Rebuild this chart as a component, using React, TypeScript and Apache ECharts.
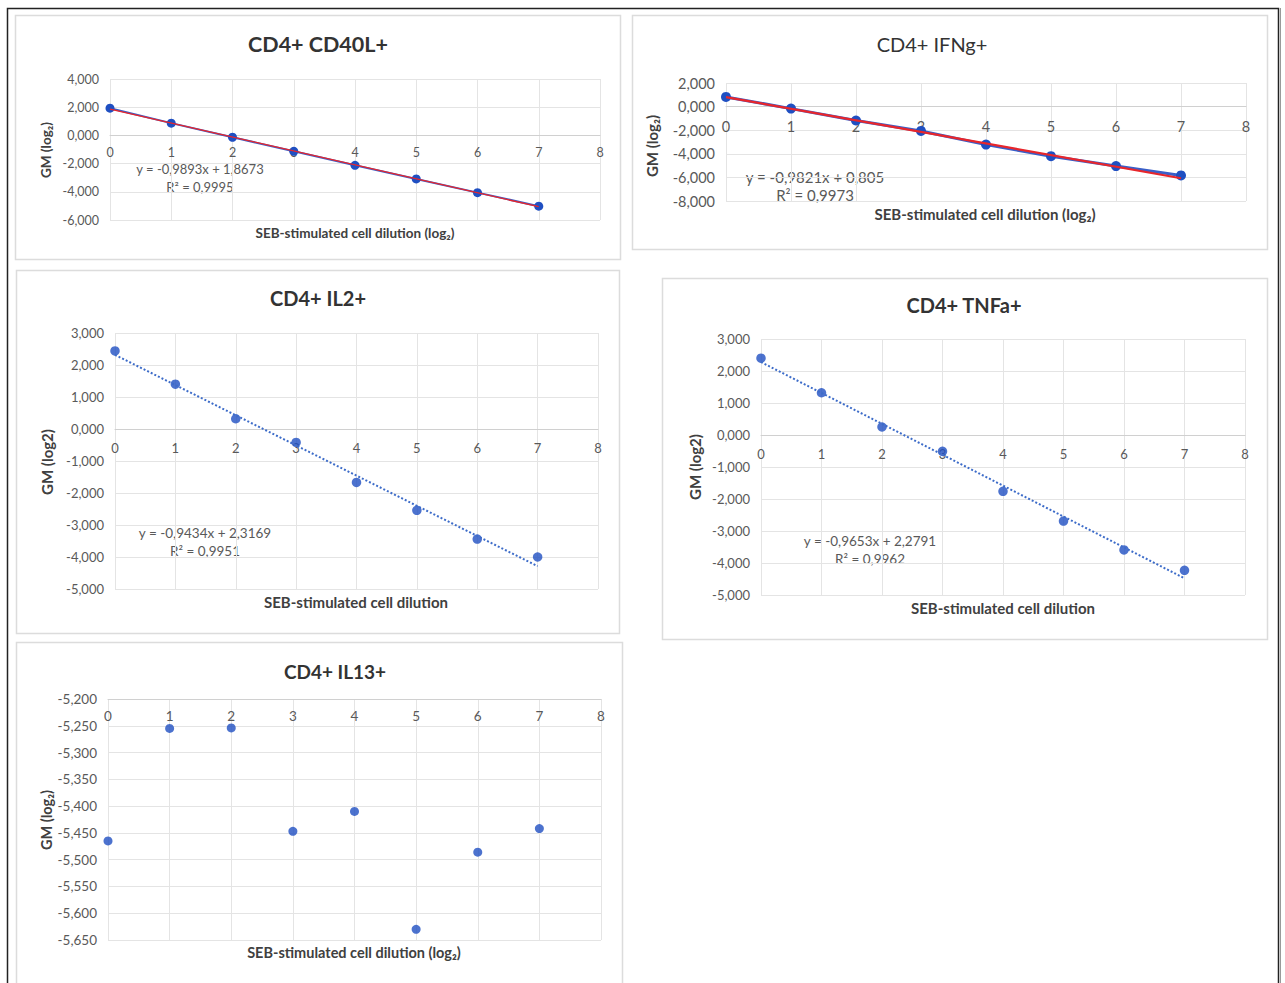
import React, { useEffect, useRef } from "react";
import * as echarts from "echarts";

const FONT = 'Lato, "Open Sans", "DejaVu Sans", sans-serif';

// ---- data ----
const dilutionSteps = [0, 1, 2, 3, 4, 5, 6, 7];
const cd40lValues = [1.93, 0.87, -0.13, -1.13, -2.12, -3.09, -4.06, -5.02];
const ifngValues = [0.82, -0.17, -1.18, -2.06, -3.22, -4.2, -5.04, -5.83];
const il2Values = [2.44, 1.4, 0.32, -0.42, -1.67, -2.54, -3.44, -4.0];
const tnfaValues = [2.4, 1.32, 0.25, -0.51, -1.76, -2.69, -3.59, -4.23];
const il13Values = [-5.465, -5.255, -5.254, -5.447, -5.41, -5.63, -5.486, -5.442];

const panelTitles = ["CD4+ CD40L+", "CD4+ IFNg+", "CD4+ IL2+", "CD4+ TNFa+", "CD4+ IL13+"];
const yAxisTitles = ["GM (log\u2082)", "GM (log\u2082)", "GM (log2)", "GM (log2)", "GM (log\u2082)"];
const xAxisTitles = [
  "SEB-stimulated cell dilution (log\u2082)",
  "SEB-stimulated cell dilution (log\u2082)",
  "SEB-stimulated cell dilution",
  "SEB-stimulated cell dilution",
  "SEB-stimulated cell dilution (log\u2082)",
];
const yMins = [-6, -8, -5, -5, -5.65];
const yMaxs = [4, 2, 3, 3, -5.2];
const yIntervals = [2, 2, 1, 1, 0.05];
const trendSlopes = [-0.9893, -0.9821, -0.9434, -0.9653];
const trendIntercepts = [1.8673, 0.805, 2.3169, 2.2791];
const equationTexts = [
  "y = -0,9893x + 1,8673",
  "y = -0,9821x + 0,805",
  "y = -0,9434x + 2,3169",
  "y = -0,9653x + 2,2791",
];
const r2Texts = ["R\u00b2 = 0,9995", "R\u00b2 = 0,9973", "R\u00b2 = 0,9951", "R\u00b2 = 0,9962"];

// ---- layout ----
const grids = [
  { left: 110, top: 79, width: 490, height: 141 },
  { left: 726, top: 83, width: 520, height: 118 },
  { left: 115, top: 333, width: 483, height: 256 },
  { left: 761, top: 339, width: 484, height: 256 },
  { left: 108, top: 699, width: 493, height: 241 },
];
const panelBoxes = [
  { x: 15, y: 15, w: 605, h: 244 },
  { x: 632, y: 15, w: 635, h: 234 },
  { x: 16, y: 270, w: 603, h: 363 },
  { x: 662, y: 278, w: 605, h: 361 },
  { x: 16, y: 642, w: 606, h: 345 },
];
const titlePos = [[318, 44], [932, 44], [318, 298], [964, 305], [335, 671]];
const titleSizes = [21.5, 20, 20, 20, 19];
const titleWeights = ["bold", "normal", "bold", "bold", "bold"];
const tickSizes = [12.5, 14.5, 13, 13, 13.5];
const tickXMargins = [11, 12, 12, 12, 10];
const axisTitleSizes = [13.5, 15, 15, 15, 14.5];
const yTitlePos = [[46, 150], [652, 146], [47, 462], [695, 467], [46, 820]];
const xTitlePos = [[355, 233], [985, 214], [356, 602], [1003, 608], [354, 952]];
const eqPos = [[200, 169], [815, 177], [205, 533], [870, 541]];
const eqSizes = [13, 15, 13.5, 13.5];

const BLUE = "#1f4fc2";
const RED = "#e8262b";
const GRID_LINE = "#e4e4e4";
const LABEL = "#595959";

const fmt = (v: number) => v.toFixed(3).replace(".", ",");

function trendData(i: number) {
  const x0 = dilutionSteps[0];
  const x1 = dilutionSteps[dilutionSteps.length - 1];
  return [
    [x0, trendSlopes[i] * x0 + trendIntercepts[i]],
    [x1, trendSlopes[i] * x1 + trendIntercepts[i]],
  ];
}

function pairs(vals: number[]) {
  return dilutionSteps.map((x, i) => [x, vals[i]]);
}

export default function App() {
  const ref = useRef<HTMLDivElement>(null);
  useEffect(() => {
    if (!ref.current) return;
    const chart = echarts.init(ref.current, undefined, { renderer: "svg" });

    const xAxes = grids.map((g, i) => {
      const crossesZero = yMins[i] <= 0 && yMaxs[i] >= 0;
      const zeroOffset = crossesZero ? -(g.height * (0 - yMins[i])) / (yMaxs[i] - yMins[i]) : 0;
      return {
        gridIndex: i,
        type: "value",
        min: 0,
        max: 8,
        interval: 1,
        position: crossesZero ? "bottom" : "top",
        offset: zeroOffset,
        axisLine: { show: true, onZero: false, lineStyle: { color: "#d0d0d0", width: 1 } },
        axisTick: { show: false },
        axisLabel: {
          color: LABEL,
          fontSize: tickSizes[i],
          fontFamily: FONT,
          margin: tickXMargins[i],
          inside: !crossesZero,
        },
        splitLine: { show: true, lineStyle: { color: GRID_LINE, width: 1 } },
      };
    });

    const yAxes = grids.map((_, i) => ({
      gridIndex: i,
      type: "value",
      min: yMins[i],
      max: yMaxs[i],
      interval: yIntervals[i],
      axisLine: { show: false },
      axisTick: { show: false },
      axisLabel: {
        color: LABEL,
        fontSize: tickSizes[i],
        fontFamily: FONT,
        margin: 11,
        formatter: (v: number) => fmt(v),
      },
      splitLine: { show: true, lineStyle: { color: GRID_LINE, width: 1 } },
    }));

    const series: any[] = [];
    // Panel 1
    series.push({
      type: "line",
      xAxisIndex: 0,
      yAxisIndex: 0,
      data: pairs(cd40lValues),
      symbol: "circle",
      symbolSize: 9,
      itemStyle: { color: BLUE },
      lineStyle: { color: "#3a5fc8", width: 2 },
      z: 2,
    });
    series.push({
      type: "line",
      xAxisIndex: 0,
      yAxisIndex: 0,
      data: trendData(0),
      symbol: "none",
      lineStyle: { color: RED, width: 1.3 },
      z: 3,
    });
    // Panel 2
    series.push({
      type: "line",
      xAxisIndex: 1,
      yAxisIndex: 1,
      data: pairs(ifngValues),
      symbol: "circle",
      symbolSize: 10,
      itemStyle: { color: BLUE },
      lineStyle: { color: "#3a5fc8", width: 3 },
      z: 2,
    });
    series.push({
      type: "line",
      xAxisIndex: 1,
      yAxisIndex: 1,
      data: trendData(1),
      symbol: "none",
      lineStyle: { color: RED, width: 2.2 },
      z: 3,
    });
    // Panel 3
    series.push({
      type: "scatter",
      xAxisIndex: 2,
      yAxisIndex: 2,
      data: pairs(il2Values),
      symbol: "circle",
      symbolSize: 9.5,
      itemStyle: { color: BLUE },
      z: 2,
    });
    series.push({
      type: "line",
      xAxisIndex: 2,
      yAxisIndex: 2,
      data: trendData(2),
      symbol: "none",
      lineStyle: { color: "#3d6cc9", width: 2, type: [2, 2] },
      z: 3,
    });
    // Panel 4
    series.push({
      type: "scatter",
      xAxisIndex: 3,
      yAxisIndex: 3,
      data: pairs(tnfaValues),
      symbol: "circle",
      symbolSize: 9.5,
      itemStyle: { color: BLUE },
      z: 2,
    });
    series.push({
      type: "line",
      xAxisIndex: 3,
      yAxisIndex: 3,
      data: trendData(3),
      symbol: "none",
      lineStyle: { color: "#3d6cc9", width: 2, type: [2, 2] },
      z: 3,
    });
    // Panel 5
    series.push({
      type: "scatter",
      xAxisIndex: 4,
      yAxisIndex: 4,
      data: pairs(il13Values),
      symbol: "circle",
      symbolSize: 9,
      itemStyle: { color: BLUE },
      z: 2,
    });

    const graphics: any[] = [];
    // outer frame
    graphics.push({
      type: "polyline",
      shape: { points: [[7.5, 983], [7.5, 8.5], [1278.5, 8.5], [1278.5, 983]] },
      style: { stroke: "#222", lineWidth: 1.5, fill: "none" },
      z: 0,
    });
    graphics.push({
      type: "line",
      shape: { x1: 1280.5, y1: 8, x2: 1280.5, y2: 983 },
      style: { stroke: "#9a9a9a", lineWidth: 1 },
      z: 0,
    });
    panelBoxes.forEach((b) => {
      graphics.push({
        type: "rect",
        shape: { x: b.x + 0.5, y: b.y + 0.5, width: b.w, height: b.h },
        style: { stroke: "#dcdcdc", lineWidth: 1.5, fill: "none" },
        z: 0,
      });
    });
    titlePos.forEach((p, i) => {
      graphics.push({
        type: "text",
        x: p[0],
        y: p[1],
        style: {
          text: panelTitles[i],
          align: "center",
          verticalAlign: "middle",
          fontSize: titleSizes[i],
          fontWeight: titleWeights[i],
          fontFamily: FONT,
          fill: "#333333",
        },
      });
    });
    yTitlePos.forEach((p, i) => {
      graphics.push({
        type: "text",
        x: p[0],
        y: p[1],
        rotation: Math.PI / 2,
        style: {
          text: yAxisTitles[i],
          align: "center",
          verticalAlign: "middle",
          fontSize: axisTitleSizes[i],
          fontWeight: "bold",
          fontFamily: FONT,
          fill: "#404040",
        },
      });
    });
    xTitlePos.forEach((p, i) => {
      graphics.push({
        type: "text",
        x: p[0],
        y: p[1],
        style: {
          text: xAxisTitles[i],
          align: "center",
          verticalAlign: "middle",
          fontSize: axisTitleSizes[i],
          fontWeight: "bold",
          fontFamily: FONT,
          fill: "#404040",
        },
      });
    });
    eqPos.forEach((p, i) => {
      graphics.push({
        type: "text",
        x: p[0],
        y: p[1],
        style: {
          text: equationTexts[i],
          align: "center",
          verticalAlign: "middle",
          fontSize: eqSizes[i],
          fontFamily: FONT,
          fill: "#595959",
        },
      });
      graphics.push({
        type: "text",
        x: p[0],
        y: p[1] + 18,
        style: {
          text: r2Texts[i],
          align: "center",
          verticalAlign: "middle",
          fontSize: eqSizes[i],
          fontFamily: FONT,
          fill: "#595959",
        },
      });
    });

    chart.setOption({
      animation: false,
      backgroundColor: "#ffffff",
      textStyle: { fontFamily: FONT },
      grid: grids.map((g) => ({ ...g, containLabel: false })),
      xAxis: xAxes,
      yAxis: yAxes,
      series,
      graphic: { elements: graphics },
    });
    return () => chart.dispose();
  }, []);

  return (
    <div
      ref={ref}
      style={{ position: "fixed", left: 0, top: 0, width: 1285, height: 983, background: "#fff" }}
    />
  );
}
